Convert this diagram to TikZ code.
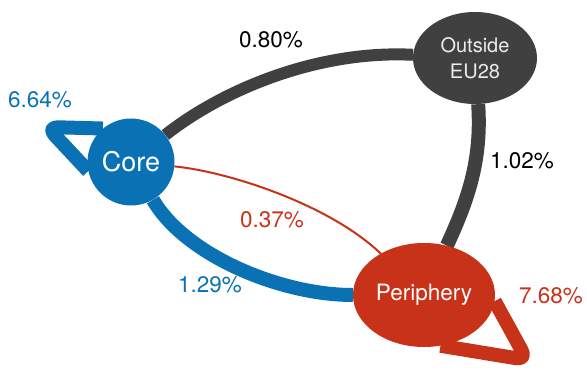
\documentclass[tikz,border=0pt]{standalone}
\usepackage{fontspec}
\setmainfont{TeX Gyre Heros}
\usetikzlibrary{shapes.geometric,backgrounds}
\definecolor{coreblue}{RGB}{10,114,180}
\definecolor{perred}{RGB}{200,50,24}
\definecolor{extgray}{RGB}{64,64,64}
\tikzset{
  hub/.style={inner sep=0pt, draw=none, text=white, align=center},
  flow/.style={line cap=butt, fill=none},
  selfflow/.style={line cap=butt, line join=round, rounded corners=11pt, fill=none, line width=14pt},
  share/.style={font=\fontsize{22.5}{26}\selectfont}
}
\begin{document}
\begin{tikzpicture}[x=1pt,y=-1pt]
\useasboundingbox (0,0) rectangle (587,371);

% regions
\node[hub, circle, fill=coreblue, minimum size=87pt,
      font=\fontsize{27}{30}\selectfont] (core) at (131,162) {Core};
\node[hub, ellipse, fill=perred, minimum width=142pt, minimum height=104pt,
      font=\fontsize{22.5}{26}\selectfont] (per) at (424,295) {Periphery};
\node[hub, ellipse, fill=extgray, minimum width=124pt, minimum height=92pt,
      text=white!92!black, font=\fontsize{20}{26}\selectfont] (out) at (475,58) {Outside\\EU28};

% turning points of the flows within a region
\coordinate (coretip) at (47,127);
\coordinate (pertip) at (527,360);

% flows between regions
\begin{scope}[on background layer]
  \draw[flow, extgray, line width=12pt]
    (core) .. controls (225,88) and (320,50) .. (out);
  \draw[flow, extgray, line width=14pt]
    (out) .. controls (482,160) and (468,200) .. (per);
  \draw[flow, perred, line width=2pt]
    (core) .. controls (230,172) and (330,205) .. (per);
  \draw[flow, coreblue, line width=14pt]
    (core) .. controls (185,255) and (280,295) .. (per);
  % flows within a region
  \draw[selfflow, coreblue] (core.130) -- (coretip) -- (core.192);
  \draw[selfflow, perred] (per.-5) -- (pertip) -- (per.-72);
\end{scope}

% shares
\node[share, text=coreblue] (lcc) at (40,100) {6.64\%};
\node[share, text=black] (lco) at (271,40) {0.80\%};
\node[share, text=black] (lop) at (522,161) {1.02\%};
\node[share, text=perred] (lpc) at (272,220) {0.37\%};
\node[share, text=coreblue] (lcp) at (210,285) {1.29\%};
\node[share, text=perred] (lpp) at (551,296) {7.68\%};
\end{tikzpicture}
\end{document}
